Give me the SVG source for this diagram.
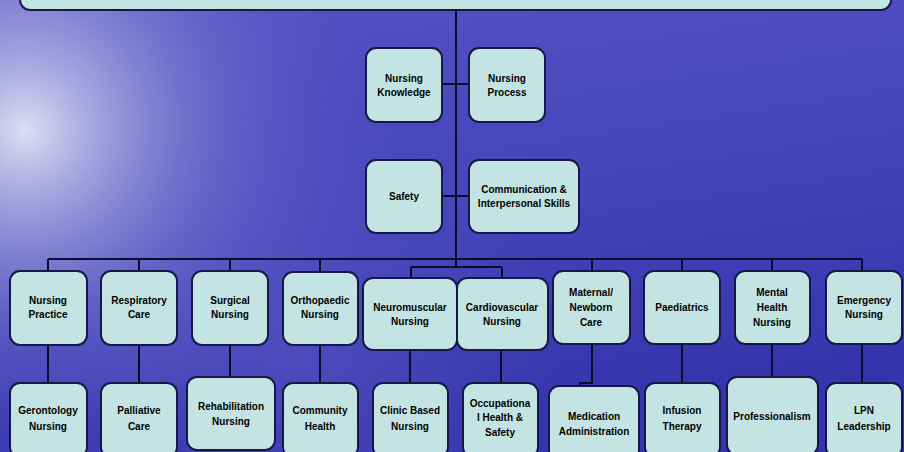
<svg xmlns="http://www.w3.org/2000/svg" width="904" height="452" viewBox="0 0 904 452">
<defs>
<linearGradient id="bg" x1="0" y1="0" x2="0.3" y2="1">
<stop offset="0" stop-color="#5454c4"/>
<stop offset="0.5" stop-color="#4646bc"/>
<stop offset="1" stop-color="#3434ac"/>
</linearGradient>
<radialGradient id="glow" cx="25" cy="130" r="360" gradientUnits="userSpaceOnUse">
<stop offset="0" stop-color="#e6e6f6" stop-opacity="0.95"/>
<stop offset="0.2" stop-color="#c0c0ea" stop-opacity="0.75"/>
<stop offset="0.55" stop-color="#8a8ad6" stop-opacity="0.35"/>
<stop offset="1" stop-color="#5050c0" stop-opacity="0"/>
</radialGradient>
<radialGradient id="glow2" cx="300" cy="360" r="260" gradientUnits="userSpaceOnUse">
<stop offset="0" stop-color="#6a6ad0" stop-opacity="0.35"/>
<stop offset="1" stop-color="#6a6ad0" stop-opacity="0"/>
</radialGradient>
</defs>
<style>
.box{fill:#c4e4e4;stroke:#181848;stroke-width:2}
.lbl{font-family:"Liberation Sans",Arial,sans-serif;font-size:10px;font-weight:bold;fill:#000;text-anchor:middle}
.ln{stroke:#0c0c30;stroke-width:2;fill:none}
</style>
<rect x="0" y="0" width="904" height="452" fill="url(#bg)"/>
<rect x="0" y="0" width="904" height="452" fill="url(#glow2)"/>
<rect x="0" y="0" width="904" height="452" fill="url(#glow)"/>

<g id="connectors">
<line class="ln" x1="456" y1="8" x2="456" y2="267"/>
<line class="ln" x1="442" y1="84" x2="469" y2="84"/>
<line class="ln" x1="442" y1="196" x2="469" y2="196"/>
<line class="ln" x1="48" y1="259" x2="862" y2="259"/>
<line class="ln" x1="411" y1="267" x2="502" y2="267"/>
<line class="ln" x1="411" y1="267" x2="411" y2="278"/>
<line class="ln" x1="502" y1="267" x2="502" y2="278"/>
<line class="ln" x1="48" y1="259" x2="48" y2="271"/>
<line class="ln" x1="139" y1="259" x2="139" y2="271"/>
<line class="ln" x1="230" y1="259" x2="230" y2="271"/>
<line class="ln" x1="320" y1="259" x2="320" y2="272"/>
<line class="ln" x1="592" y1="259" x2="592" y2="271"/>
<line class="ln" x1="682" y1="259" x2="682" y2="271"/>
<line class="ln" x1="772" y1="259" x2="772" y2="271"/>
<line class="ln" x1="862" y1="259" x2="862" y2="271"/>
<line class="ln" x1="48" y1="345" x2="48" y2="383"/>
<line class="ln" x1="139" y1="345" x2="139" y2="383"/>
<line class="ln" x1="230" y1="345" x2="230" y2="377"/>
<line class="ln" x1="320" y1="345" x2="320" y2="383"/>
<line class="ln" x1="410" y1="350" x2="410" y2="383"/>
<line class="ln" x1="501" y1="350" x2="501" y2="383"/>
<polyline class="ln" points="592,344 592,383 580,383 580,386"/>
<line class="ln" x1="682" y1="344" x2="682" y2="383"/>
<line class="ln" x1="772" y1="344" x2="772" y2="377"/>
<line class="ln" x1="862" y1="344" x2="862" y2="383"/>
</g>

<g id="top"><rect class="box" x="20" y="-30" width="871" height="40" rx="10"/></g>

<g id="n-knowledge"><rect class="box" x="366" y="48" width="76" height="74" rx="10"/>
<text class="lbl" x="404" y="82">Nursing</text><text class="lbl" x="404" y="96">Knowledge</text></g>
<g id="n-process"><rect class="box" x="469" y="48" width="76" height="74" rx="10"/>
<text class="lbl" x="507" y="82">Nursing</text><text class="lbl" x="507" y="96">Process</text></g>
<g id="n-safety"><rect class="box" x="366" y="160" width="76" height="73" rx="10"/>
<text class="lbl" x="404" y="200">Safety</text></g>
<g id="n-comm"><rect class="box" x="469" y="160" width="110" height="73" rx="10"/>
<text class="lbl" x="524" y="193">Communication &amp;</text><text class="lbl" x="524" y="207">Interpersonal Skills</text></g>

<g id="n-practice"><rect class="box" x="10" y="271" width="77" height="74" rx="10"/>
<text class="lbl" x="48" y="304">Nursing</text><text class="lbl" x="48" y="318">Practice</text></g>
<g id="n-resp"><rect class="box" x="101" y="271" width="76" height="74" rx="10"/>
<text class="lbl" x="139" y="304">Respiratory</text><text class="lbl" x="139" y="318">Care</text></g>
<g id="n-surg"><rect class="box" x="192" y="271" width="76" height="74" rx="10"/>
<text class="lbl" x="230" y="304">Surgical</text><text class="lbl" x="230" y="318">Nursing</text></g>
<g id="n-ortho"><rect class="box" x="283" y="272" width="75" height="73" rx="10"/>
<text class="lbl" x="320" y="304">Orthopaedic</text><text class="lbl" x="320" y="318">Nursing</text></g>
<g id="n-neuro"><rect class="box" x="363" y="278" width="94" height="72" rx="10"/>
<text class="lbl" x="410" y="311">Neuromuscular</text><text class="lbl" x="410" y="325">Nursing</text></g>
<g id="n-cardio"><rect class="box" x="457" y="278" width="91" height="72" rx="10"/>
<text class="lbl" x="502" y="311">Cardiovascular</text><text class="lbl" x="502" y="325">Nursing</text></g>
<g id="n-maternal"><rect class="box" x="553" y="271" width="77" height="73" rx="10"/>
<text class="lbl" x="591" y="296">Maternal/</text><text class="lbl" x="591" y="311">Newborn</text><text class="lbl" x="591" y="326">Care</text></g>
<g id="n-paed"><rect class="box" x="644" y="271" width="76" height="73" rx="10"/>
<text class="lbl" x="682" y="311">Paediatrics</text></g>
<g id="n-mental"><rect class="box" x="735" y="271" width="75" height="73" rx="10"/>
<text class="lbl" x="772" y="296">Mental</text><text class="lbl" x="772" y="311">Health</text><text class="lbl" x="772" y="326">Nursing</text></g>
<g id="n-emerg"><rect class="box" x="826" y="271" width="76" height="73" rx="10"/>
<text class="lbl" x="864" y="304">Emergency</text><text class="lbl" x="864" y="318">Nursing</text></g>

<g id="n-geront"><rect class="box" x="10" y="383" width="77" height="74" rx="10"/>
<text class="lbl" x="48" y="414">Gerontology</text><text class="lbl" x="48" y="430">Nursing</text></g>
<g id="n-palli"><rect class="box" x="101" y="383" width="76" height="74" rx="10"/>
<text class="lbl" x="139" y="414">Palliative</text><text class="lbl" x="139" y="430">Care</text></g>
<g id="n-rehab"><rect class="box" x="187" y="377" width="88" height="73" rx="10"/>
<text class="lbl" x="231" y="410">Rehabilitation</text><text class="lbl" x="231" y="425">Nursing</text></g>
<g id="n-community"><rect class="box" x="283" y="383" width="75" height="74" rx="10"/>
<text class="lbl" x="320" y="414">Community</text><text class="lbl" x="320" y="430">Health</text></g>
<g id="n-clinic"><rect class="box" x="373" y="383" width="75" height="74" rx="10"/>
<text class="lbl" x="410" y="414">Clinic Based</text><text class="lbl" x="410" y="430">Nursing</text></g>
<g id="n-occ"><rect class="box" x="463" y="383" width="75" height="74" rx="10"/>
<text class="lbl" x="500" y="407">Occupationa</text><text class="lbl" x="500" y="421">l Health &amp;</text><text class="lbl" x="500" y="436">Safety</text></g>
<g id="n-med"><rect class="box" x="549" y="386" width="90" height="74" rx="10"/>
<text class="lbl" x="594" y="420">Medication</text><text class="lbl" x="594" y="435">Administration</text></g>
<g id="n-infusion"><rect class="box" x="645" y="383" width="75" height="74" rx="10"/>
<text class="lbl" x="682" y="414">Infusion</text><text class="lbl" x="682" y="430">Therapy</text></g>
<g id="n-prof"><rect class="box" x="727" y="377" width="91" height="78" rx="10"/>
<text class="lbl" x="772" y="420">Professionalism</text></g>
<g id="n-lpn"><rect class="box" x="826" y="383" width="76" height="74" rx="10"/>
<text class="lbl" x="864" y="414">LPN</text><text class="lbl" x="864" y="430">Leadership</text></g>
</svg>
